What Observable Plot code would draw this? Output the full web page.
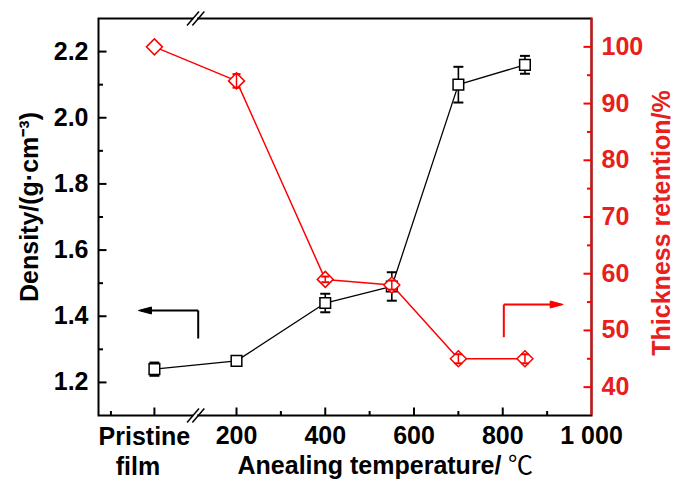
<!DOCTYPE html>
<html><head><meta charset="utf-8">
<script src="https://cdn.jsdelivr.net/npm/d3@7"></script>
<script src="https://cdn.jsdelivr.net/npm/@observablehq/plot@0.6"></script>
<style>body{margin:0;background:#fff}</style>
</head><body><div id="chart"></div>
<script>
// ---- data ----
const categories = ["Pristine film", "200", "400", "550", "700", "850"];
const PRISTINE_X = 15; // slot of the pristine film on the broken axis segment
const temperature = [PRISTINE_X, 200, 400, 550, 700, 850];
const density = [1.24, 1.265, 1.44, 1.49, 2.10, 2.16];
const densityErr = [0.02, 0.012, 0.028, 0.043, 0.054, 0.027];
const thickness = [100, 94, 59, 58, 45, 45];
const thicknessErr = [0, 1.2, 0.5, 0.8, 0.8, 0.8];
const xTicks = [200, 400, 600, 800, 1000];
const xTickLabels = ["200", "400", "600", "800", "1 000"];
const xMinorTicks = [-83, 300, 500, 700, 900];
const densityTicks = [1.2, 1.4, 1.6, 1.8, 2.0, 2.2];
const densityMinor = [1.3, 1.5, 1.7, 1.9, 2.1];
const thicknessTicks = [40, 50, 60, 70, 80, 90, 100];
const thicknessMinor = [45, 55, 65, 75, 85, 95];

// ---- layout / style ----
const W = 673, H = 480;
const X_DOMAIN = [-111, 1000];
const Y_DOMAIN = [1.1, 2.3];
const T_DOMAIN = [35, 105];
const T = t => Y_DOMAIN[0] + (t - T_DOMAIN[0]) * (Y_DOMAIN[1] - Y_DOMAIN[0]) / (T_DOMAIN[1] - T_DOMAIN[0]);
const Tinv = y => T_DOMAIN[0] + (y - Y_DOMAIN[0]) * (T_DOMAIN[1] - T_DOMAIN[0]) / (Y_DOMAIN[1] - Y_DOMAIN[0]);
const RED = "#ff0000", RED_TEXT = "#e8201c";
const FONT = "'Liberation Sans', Arial, sans-serif";
const FS = 25;

const rows = categories.map((c, i) => ({
  cat: c, x: temperature[i], d: density[i], de: densityErr[i],
  t: T(thickness[i]), te: thicknessErr[i] * (Y_DOMAIN[1] - Y_DOMAIN[0]) / (T_DOMAIN[1] - T_DOMAIN[0])
}));
const redErr = rows.filter(d => d.te > 0);

const seg = (dx, dy) => ({draw(c) { c.moveTo(0, 0); c.lineTo(dx, dy); }});
const cap = w => ({draw(c) { c.moveTo(-w, 0); c.lineTo(w, 0); }});
const headLeft = {draw(c) { c.moveTo(0, 0); c.lineTo(13, -3.5); c.lineTo(13, 3.5); c.closePath(); }};
const headRight = {draw(c) { c.moveTo(0, 0); c.lineTo(-13, -3.5); c.lineTo(-13, 3.5); c.closePath(); }};

const xl = X_DOMAIN[0], xr = X_DOMAIN[1], yb = Y_DOMAIN[0], yt = Y_DOMAIN[1];
const BREAK_X = 108;
const slashes = [];
for (const yc of [yb, yt]) {
  for (const off of [-6, 6]) {
    slashes.push({x1: BREAK_X + off - 13.5, y1: yc - 0.021, x2: BREAK_X + off + 13.5, y2: yc + 0.021});
  }
}
const tickDots = (vals, xAt, dx, dy, stroke) =>
  Plot.dot(vals, {x: () => xAt, y: d => d, symbol: seg(dx, dy), r: 1, stroke, strokeWidth: 2, fill: "none"});
const xTickDots = (vals, len) =>
  Plot.dot(vals, {x: d => d, y: () => yb, symbol: seg(0, -len), r: 1, stroke: "black", strokeWidth: 2, fill: "none"});

const chart = Plot.plot({
  width: W, height: H,
  marginLeft: 98, marginRight: 82, marginTop: 18, marginBottom: 65,
  x: {type: "linear", domain: X_DOMAIN, axis: null},
  y: {type: "linear", domain: Y_DOMAIN, axis: null},
  style: {fontFamily: FONT, fontWeight: "bold", background: "white", overflow: "visible"},
  marks: [
    Plot.frame({stroke: "black", strokeWidth: 2}),
    Plot.ruleX([xr], {stroke: RED, strokeWidth: 2}),
    // axis breaks
    Plot.rect([yb, yt], {x1: BREAK_X - 4.5, x2: BREAK_X + 4.5, y1: d => d - 0.008, y2: d => d + 0.008, fill: "white"}),
    Plot.link(slashes, {x1: "x1", y1: "y1", x2: "x2", y2: "y2", stroke: "black", strokeWidth: 1.5}),
    // ticks (inward)
    tickDots(densityTicks, xl, 8, 0, "black"),
    tickDots(densityMinor, xl, 4.5, 0, "black"),
    tickDots(thicknessTicks.map(T), xr, -8, 0, RED),
    tickDots(thicknessMinor.map(T), xr, -4.5, 0, RED),
    xTickDots([PRISTINE_X, ...xTicks.filter(v => v < xr)], 8),
    xTickDots(xMinorTicks, 4.5),
    // tick labels
    Plot.axisY({anchor: "left", ticks: densityTicks, tickSize: 0, tickPadding: 10,
      tickFormat: d3.format(".1f"), fontSize: FS, fontWeight: "bold", label: null}),
    Plot.axisY({anchor: "right", ticks: thicknessTicks.map(T), tickSize: 0, tickPadding: 10,
      tickFormat: d => String(Math.round(Tinv(d))), fontSize: FS, fontWeight: "bold",
      fill: RED_TEXT, label: null}),
    Plot.axisX({anchor: "bottom", ticks: xTicks, tickSize: 0, tickPadding: 11,
      tickFormat: (d) => xTickLabels[xTicks.indexOf(d)], fontSize: FS, fontWeight: "bold", label: null}),
    Plot.text([{x: PRISTINE_X, s: "Pristine"}], {x: "x", y: () => yb, text: "s", dx: -10, dy: 11.5,
      lineAnchor: "top", fontSize: FS, fontWeight: "bold"}),
    Plot.text([{x: PRISTINE_X, s: "film"}], {x: "x", y: () => yb, text: "s", dx: -16.5, dy: 41.5,
      lineAnchor: "top", fontSize: FS, fontWeight: "bold"}),
    // axis titles
    Plot.text(["Anealing temperature/"], {x: () => 200, y: () => yb, text: d => d, dx: 1, dy: 58,
      textAnchor: "start", lineAnchor: "bottom", fontSize: FS, fontWeight: "bold"}),
    Plot.text(["℃"], {x: () => 812, y: () => yb, text: d => d, dy: 58,
      textAnchor: "start", lineAnchor: "bottom", fontSize: 25, fontWeight: "normal",
      fontFamily: "'Noto Sans CJK SC', sans-serif"}),
    Plot.text(["Density/(g·cm⁻³)"], {frameAnchor: "left", rotate: -90, dx: -61, dy: -10,
      textAnchor: "middle", lineAnchor: "bottom", fontSize: FS, fontWeight: "bold"}),
    Plot.text(["Thickness retention/%"], {frameAnchor: "right", rotate: -90, dx: 78, dy: 6,
      textAnchor: "middle", lineAnchor: "bottom", fontSize: FS, fontWeight: "bold", fill: RED_TEXT}),
    // density series
    Plot.line(rows, {x: "x", y: "d", stroke: "black", strokeWidth: 1.3}),
    Plot.ruleX(rows, {x: "x", y1: d => d.d - d.de, y2: d => d.d + d.de, stroke: "black", strokeWidth: 1.6}),
    Plot.dot(rows, {x: "x", y: d => d.d + d.de, symbol: cap(5), r: 1, stroke: "black", strokeWidth: 2, fill: "none"}),
    Plot.dot(rows, {x: "x", y: d => d.d - d.de, symbol: cap(5), r: 1, stroke: "black", strokeWidth: 2, fill: "none"}),
    Plot.dot(rows, {x: "x", y: "d", symbol: "square", r: 6, stroke: "black", strokeWidth: 1.5, fill: "white"}),
    // thickness series
    Plot.line(rows, {x: "x", y: "t", stroke: RED, strokeWidth: 1.5}),
    Plot.dot(rows, {x: "x", y: "t", symbol: "diamond2", r: 7.2, stroke: RED, strokeWidth: 1.5, fill: "white"}),
    Plot.ruleX(redErr, {x: "x", y1: d => d.t - d.te, y2: d => d.t + d.te, stroke: RED, strokeWidth: 1.5}),
    Plot.dot(redErr, {x: "x", y: d => d.t + d.te, symbol: cap(4), r: 1, stroke: RED, strokeWidth: 2, fill: "none"}),
    Plot.dot(redErr, {x: "x", y: d => d.t - d.te, symbol: cap(4), r: 1, stroke: RED, strokeWidth: 2, fill: "none"}),
    // direction arrows
    Plot.link([{x1: 113.7, y1: 1.3327, x2: 113.7, y2: 1.4174}, {x1: 113.7, y1: 1.4174, x2: -15, y2: 1.4174}],
      {x1: "x1", y1: "y1", x2: "x2", y2: "y2", stroke: "black", strokeWidth: 2}),
    Plot.dot([{x: -20.9, y: 1.4174}], {x: "x", y: "y", symbol: headLeft, r: 1, fill: "black", stroke: "black", strokeWidth: 1}),
    Plot.link([{x1: 802.4, y1: 1.3367, x2: 802.4, y2: 1.4355}, {x1: 802.4, y1: 1.4355, x2: 930, y2: 1.4355}],
      {x1: "x1", y1: "y1", x2: "x2", y2: "y2", stroke: RED, strokeWidth: 2}),
    Plot.dot([{x: 936.2, y: 1.4355}], {x: "x", y: "y", symbol: headRight, r: 1, fill: RED, stroke: RED, strokeWidth: 1})
  ]
});
document.getElementById("chart").appendChild(chart);
</script>
</body></html>
